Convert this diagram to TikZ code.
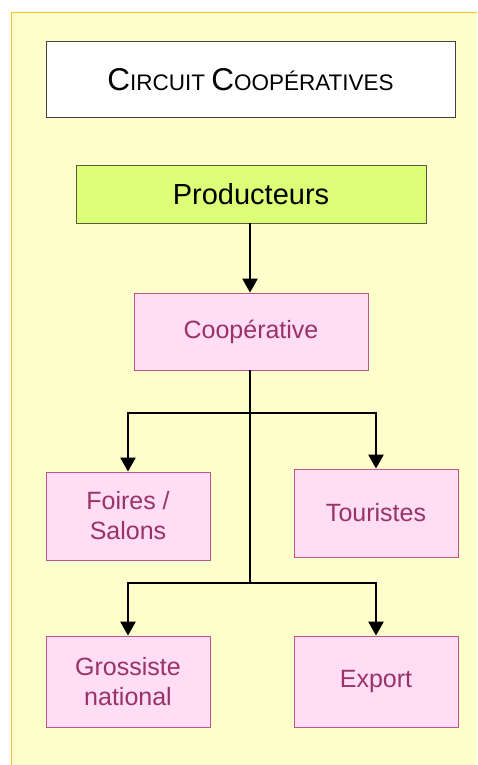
\documentclass[tikz,border=0pt]{standalone}
\usepackage{fontspec}
\setmainfont{Liberation Sans}
\usetikzlibrary{arrows.meta}
\definecolor{paper}{RGB}{255,255,204}
\definecolor{paperedge}{RGB}{240,196,40}
\definecolor{pinkfill}{RGB}{255,221,244}
\definecolor{pinkedge}{RGB}{185,85,143}
\definecolor{plum}{RGB}{153,51,102}
\definecolor{limefill}{RGB}{221,255,119}
\definecolor{limeedge}{RGB}{90,90,60}
\newcommand{\bigC}[1]{{\fontsize{31.5}{36}\selectfont #1}}
\newcommand{\smallcap}[1]{{\fontsize{22.5}{26}\selectfont #1}}
\begin{document}
\begin{tikzpicture}[x=1pt,y=-1pt,
  titlebox/.style={draw=black!75,fill=white,line width=1pt,minimum width=409pt,minimum height=76pt,inner sep=0pt},
  prodbox/.style={draw=limeedge,fill=limefill,line width=0.8pt,minimum width=350pt,minimum height=58pt,inner sep=0pt,
    font=\fontsize{29}{33}\selectfont},
  pinkbox/.style={draw=pinkedge,fill=pinkfill,line width=0.8pt,minimum width=164pt,minimum height=88pt,inner sep=0pt,
    text=plum,align=center,font=\fontsize{25}{30}\selectfont},
  flow/.style={line width=2.5pt,draw=black},
  arrow/.style={flow,-{Triangle[length=14pt,width=15pt]}}]
\useasboundingbox (0,0) rectangle (477,765);
% sheet
\fill[paper] (11,13) rectangle (477,765);
\draw[paperedge,line width=1pt] (11,765) -- (11,13) -- (477,13);
% boxes
\node[titlebox] (title) at (250.5,80) {\bigC{C}\smallcap{IRCUIT }\bigC{C}\smallcap{OOPÉRATIVES}};
\node[prodbox] (prod) at (251,194) {Producteurs};
\node[pinkbox,minimum width=234pt,minimum height=77pt] (coop) at (251,331.5) {Coopérative};
\node[pinkbox] (foires) at (128,516) {Foires /\\Salons};
\node[pinkbox] (tour) at (376,513) {Touristes};
\node[pinkbox,minimum height=91pt] (gros) at (128,681.5) {Grossiste\\national};
\node[pinkbox,minimum height=91pt] (export) at (376,681.5) {Export};
% connectors
\coordinate (j1) at (250,413);
\coordinate (j2) at (250,583);
\draw[arrow] (prod.south -| j1) -- (coop.north -| j1);
\draw[flow] (coop.south -| j1) -- (j2);
\draw[arrow] (j1) -| (foires.north);
\draw[arrow] (j1) -| (tour.north);
\draw[arrow] (j2) -| (gros.north);
\draw[arrow] (j2) -| (export.north);
\end{tikzpicture}
\end{document}
